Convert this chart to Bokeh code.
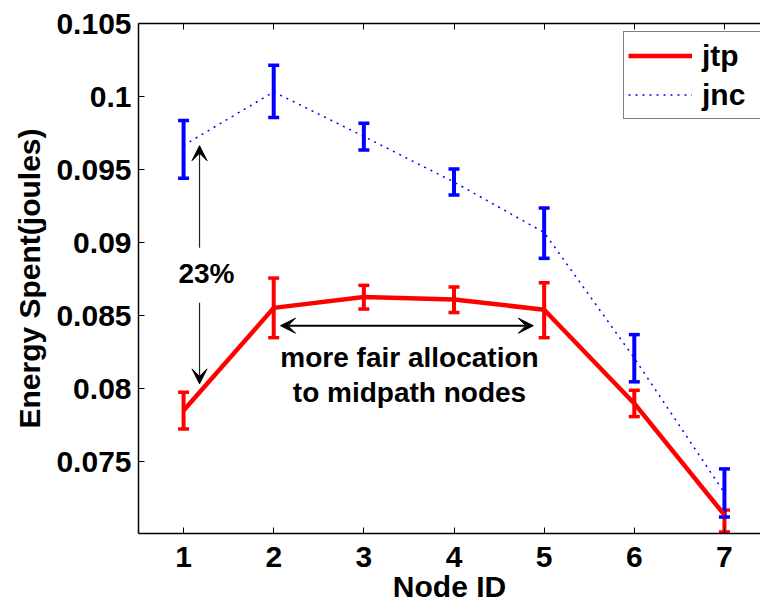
from bokeh.plotting import figure
from bokeh.models import (ColumnDataSource, Whisker, TeeHead, FixedTicker, LinearAxis,
                          Arrow, VeeHead, Label, Legend, LegendItem, Range1d)
from bokeh.embed import file_html
from bokeh.resources import INLINE

# ---- data ----
node_ids = [1, 2, 3, 4, 5, 6, 7]
jtp_mean = [0.07852, 0.08554, 0.08628, 0.08612, 0.08541, 0.07900, 0.07137]
jtp_upper = [0.07977, 0.08758, 0.08708, 0.08697, 0.08726, 0.07990, 0.07170]
jtp_lower = [0.07725, 0.08350, 0.08546, 0.08522, 0.08350, 0.07810, 0.07020]
jnc_mean = [0.09666, 0.10032, 0.09727, 0.09415, 0.09070, 0.08210, 0.07288]
jnc_upper = [0.09836, 0.10215, 0.09817, 0.09505, 0.09237, 0.08371, 0.07452]
jnc_lower = [0.09441, 0.09857, 0.09635, 0.09327, 0.08893, 0.08048, 0.07123]
y_ticks = [0.075, 0.08, 0.085, 0.09, 0.095, 0.1, 0.105]
y_tick_labels = ["0.075", "0.08", "0.085", "0.09", "0.095", "0.1", "0.105"]

FONT = "Liberation Sans"

p = figure(width=760, height=605, x_range=Range1d(0.5, 7.4), y_range=Range1d(0.0701, 0.105),
           output_backend="svg", toolbar_location=None,
           min_border_left=138, min_border_right=0, min_border_top=23, min_border_bottom=72)
p.outline_line_color = None
p.grid.visible = False

# axes
xa = p.xaxis[0]
xa.ticker = FixedTicker(ticks=node_ids)
xa.axis_label = "Node ID"
ya = p.yaxis[0]
ya.ticker = FixedTicker(ticks=y_ticks)
ya.major_label_overrides = {t: s for t, s in zip(y_ticks, y_tick_labels)}
ya.axis_label = "Energy Spent(joules)"
for ax in (xa, ya):
    ax.major_tick_in = 6
    ax.major_tick_out = 0
    ax.minor_tick_line_color = None
    ax.axis_line_width = 1.5
    ax.axis_line_color = "black"
    ax.major_tick_line_color = "black"
    ax.major_label_text_font = FONT
    ax.major_label_text_font_style = "bold"
    ax.major_label_text_font_size = "30px"
    ax.major_label_text_color = "black"
    ax.axis_label_text_font = FONT
    ax.axis_label_text_font_style = "bold"
    ax.axis_label_text_font_size = "30px"
    ax.axis_label_text_color = "black"
xa.major_label_standoff = 13
xa.axis_label_standoff = 0
ya.major_label_standoff = 7
ya.axis_label_standoff = 7

top = LinearAxis(ticker=FixedTicker(ticks=node_ids), major_label_text_font_size="0px",
                 major_tick_in=6, major_tick_out=0, minor_tick_line_color=None,
                 major_label_standoff=0, axis_line_width=1.5, axis_line_color="black")
p.add_layout(top, "above")

# jtp
jtp_src = ColumnDataSource(dict(x=node_ids, y=jtp_mean, upper=jtp_upper, lower=jtp_lower))
r_jtp = p.line("x", "y", source=jtp_src, line_color="red", line_width=4.5)
p.add_layout(Whisker(base="x", upper="upper", lower="lower", source=jtp_src,
                     line_color="red", line_width=4,
                     upper_head=TeeHead(size=11, line_color="red", line_width=3.5),
                     lower_head=TeeHead(size=11, line_color="red", line_width=3.5)))

# jnc
jnc_src = ColumnDataSource(dict(x=node_ids, y=jnc_mean, upper=jnc_upper, lower=jnc_lower))
r_jnc = p.line("x", "y", source=jnc_src, line_color="blue", line_width=1.5, line_dash="2 5")
p.add_layout(Whisker(base="x", upper="upper", lower="lower", source=jnc_src,
                     line_color="blue", line_width=4,
                     upper_head=TeeHead(size=11, line_color="blue", line_width=3.5),
                     lower_head=TeeHead(size=11, line_color="blue", line_width=3.5)))

# annotations
def vee():
    return VeeHead(size=15, fill_color="black", line_color="black", line_width=1)

ARROW_X = 1.177
p.add_layout(Arrow(end=vee(), x_start=ARROW_X, y_start=0.08966, x_end=ARROW_X, y_end=0.09664,
                   line_color="#222222", line_width=1.2))
p.add_layout(Arrow(end=vee(), x_start=ARROW_X, y_start=0.08589, x_end=ARROW_X, y_end=0.08034,
                   line_color="#222222", line_width=1.2))
p.add_layout(Arrow(start=vee(), end=vee(), x_start=2.075, y_start=0.08432, x_end=4.88, y_end=0.08432,
                   line_color="black", line_width=2))

def lab(x, y, t, size="28px"):
    p.add_layout(Label(x=x, y=y, text=t, text_align="center", text_baseline="middle",
                       text_font=FONT, text_font_style="bold", text_font_size=size,
                       text_color="black"))

lab(1.254, 0.08788, "23%")
lab(3.506, 0.08212, "more fair allocation")
lab(3.506, 0.07972, "to midpath nodes")

legend = Legend(items=[LegendItem(label="jtp", renderers=[r_jtp]),
                       LegendItem(label="jnc", renderers=[r_jnc])],
                location=(485, 414))
legend.border_line_color = "black"
legend.border_line_width = 1.5
legend.background_fill_color = "white"
legend.background_fill_alpha = 1
legend.label_text_font = FONT
legend.label_text_font_style = "bold"
legend.label_text_font_size = "30px"
legend.label_text_color = "black"
legend.glyph_width = 64
legend.glyph_height = 39
legend.label_height = 39
legend.label_width = 55
legend.label_standoff = 10
legend.spacing = 0
legend.padding = 4
legend.margin = 0
p.add_layout(legend)

open("out.html", "w").write(file_html(p, INLINE))
